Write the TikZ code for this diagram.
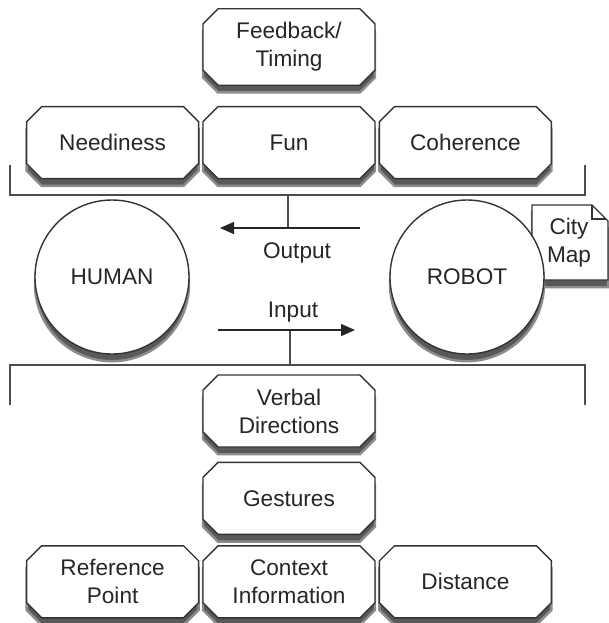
\documentclass[tikz,border=0pt]{standalone}
\usepackage{fontspec}
\setmainfont{Liberation Sans}
\usetikzlibrary{positioning,%
  shapes.misc,%
  arrows.meta
}

\begin{document}
\begin{tikzpicture}
                    [x=0.5pt, y=-0.5pt,
                    font=\fontsize{11.3}{14}\selectfont,
                    casts/.style={preaction={fill=black!65, draw=black!45,
                        line width=1.2pt, transform canvas={yshift=-3.6pt}}},
                    factor/.style={chamfered rectangle,
                        chamfered rectangle xsep=4pt,
                        minimum width=86pt, minimum height=36pt,
                        align=center, text=black!85,
                        fill=white, draw=black!80, line width=0.7pt,
                        casts},
                    agent/.style={circle, minimum size=77pt,
                        fill=white, draw=black!80, line width=0.7pt,
                        text=black!85, casts},
                    bracket/.style={draw=black!70, line width=0.7pt},
                    flow/.style={draw=black!85, line width=0.7pt,
                        -{Triangle[length=7pt, width=6pt]}},
                    node distance=1.5pt]

                    % output side
                    \node[factor] (fb) at (289,47)
                        {Feedback/\\Timing};
                    \node[factor, below=10pt of fb]
                        (fun) {Fun};
                    \node[factor, left=of fun]
                        (need) {Neediness};
                    \node[factor, right=of fun]
                        (coh) {Coherence};

                    % input side
                    \node[factor] (verb) at (289,411)
                        {Verbal\\Directions};
                    \node[factor, below=7pt of verb]
                        (gest) {Gestures};
                    \node[factor, below=5pt of gest]
                        (ctx) {Context\\Information};
                    \node[factor, left=of ctx]
                        (refpt) {Reference\\Point};
                    \node[factor, right=of ctx]
                        (dist) {Distance};

                    % agents
                    \path[draw=black!80, line width=0.7pt, fill=white, casts]
                        (532,205) -- (592,205) -- (608,221) -- (608,280) -- (532,280) -- cycle;
                    \draw[black!80, line width=0.7pt] (592,205) -- (592,219) -- (606,219);
                    \node[align=center, text=black!85] (map) at (569,243)
                        {City\\Map};
                    \node[agent] (human) at (112,277) {HUMAN};
                    \node[agent] (robot) at (467,277) {ROBOT};

                    % brackets
                    \coordinate (tl) at (10,165);
                    \coordinate (tr) at (585,165);
                    \coordinate (topbar) at (288,195);
                    \coordinate (outjoin) at (288,228);
                    \coordinate (outstart) at (360,228);
                    \coordinate (outend) at (220,228);
                    \coordinate (bl) at (10,405);
                    \coordinate (br) at (585,405);
                    \coordinate (botbar) at (290,365);
                    \coordinate (injoin) at (290,330);
                    \coordinate (instart) at (218,330);
                    \coordinate (inend) at (355,330);

                    \draw[bracket] (tl) |- (topbar) -| (tr);
                    \draw[bracket] (bl) |- (botbar) -| (br);
                    \draw[bracket] (topbar) -- (outjoin);
                    \draw[bracket] (botbar) -- (injoin);

                    \path
                        (outstart) edge[flow] (outend)
                        (instart)  edge[flow] (inend);

                    \node[text=black!85] (outlbl) at (297,253) {Output};
                    \node[text=black!85] (inlbl) at (293,312) {Input};

                    \useasboundingbox (0,0) rectangle (605,623);
                \end{tikzpicture}
\end{document}
